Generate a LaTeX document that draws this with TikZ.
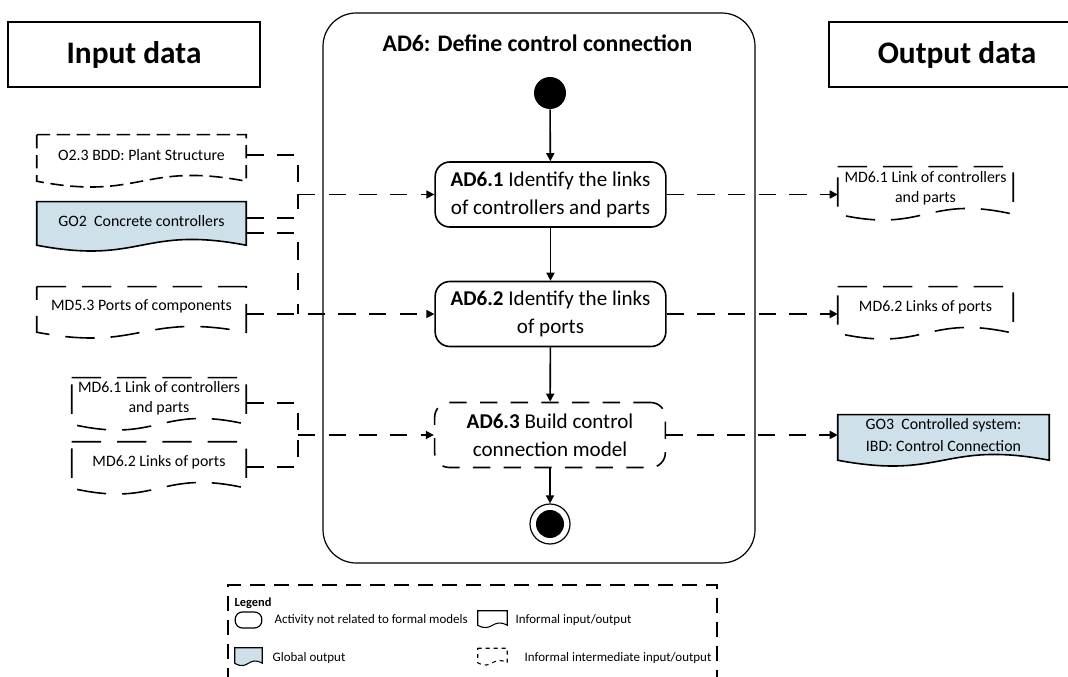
\documentclass[tikz,border=0pt]{standalone}
\usepackage{fontspec}
\setmainfont{Carlito}
\usetikzlibrary{arrows.meta,calc,backgrounds}

\definecolor{globalfill}{RGB}{206,225,234}

% document outline with wavy bottom (#3 wave, #4 drop below the text area), behind its text
\newcommand{\docline}[4][]{%
  \begin{pgfonlayer}{background}
  \draw[#1] (#2.north west) -- (#2.north east) -- ([yshift=-#4]#2.south east)
    .. controls ($([yshift=-#4]#2.south)+(0,#3)$) and ($([yshift=-#4]#2.south)+(0,-#3)$)
    .. ([yshift=-#4]#2.south west) -- cycle;
  \end{pgfonlayer}}

\tikzset{
  hdr/.style={draw,line width=0.8pt,minimum width=189pt,minimum height=48.75pt,
    font=\bfseries\fontsize{23.5}{26}\selectfont},
  act/.style={draw,line width=1.2pt,rounded corners=11pt,minimum width=173pt,
    minimum height=48.75pt,align=center,font=\fontsize{15.8}{21}\selectfont},
  doctext/.style={inner sep=0pt,align=center,font=\fontsize{11.9}{15}\selectfont},
  docsolid/.style={line width=1.2pt},
  docdash/.style={line width=1.2pt,dash pattern=on 22pt off 12pt},
  flow/.style={line width=1.2pt,dash pattern=on 13pt off 10pt},
  ctrl/.style={line width=1.2pt,->},
  legtext/.style={anchor=west,font=\fontsize{9.7}{11}\selectfont},
}

\begin{document}
\begin{tikzpicture}[x=0.75pt,y=-0.75pt,>={Triangle[length=6pt,width=6pt]}]
 \begin{pgfonlayer}{background}
 \fill[white] (0,0) rectangle (1068,677);
 \end{pgfonlayer}
 \useasboundingbox (0,0) rectangle (1068,677);
 % headers
 \node[hdr] (inhdr) at (134,54.5) {Input data};
 \node[hdr,minimum width=192pt] (outhdr) at (957,54.5) {Output data};
 % activity frame
 \node[draw,line width=0.9pt,rounded corners=25pt,minimum width=324pt,minimum height=412.5pt] (ad6) at (539,288) {};
 \node[font=\bfseries\fontsize{17.8}{20}\selectfont] (ad6title) at (537.5,43) {AD6: Define control connection};
 \node[circle,fill=black,minimum size=24pt,inner sep=0pt] (start) at (550,93) {};
 \node[act] (a61) at (550.5,194.5) {\textbf{AD6.1} Identify the links\\of controllers and parts};
 \node[act] (a62) at (550.5,314) {\textbf{AD6.2} Identify the links\\of ports};
 \node[act,dash pattern=on 13pt off 10pt] (a63) at (550,435) {\textbf{AD6.3} Build control\\connection model};
 \node[circle,draw,line width=0.9pt,minimum size=30pt,inner sep=0pt,
   path picture={\fill (path picture bounding box.center) circle (10.5pt);}] (end) at (550,524) {};
 \draw[ctrl] (start) -- (a61);
 \draw[ctrl] (a61) -- (a62);
 \draw[ctrl] (a62) -- (a63);
 \draw[ctrl] (a63) -- (end);
 % input documents
 \node[doctext,minimum width=156.75pt,minimum height=30.5pt] (o23) at (141.5,155.3) {O2.3 BDD: Plant Structure};
 \node[doctext,minimum width=156.75pt,minimum height=28.25pt] (go2) at (141.5,220.8) {GO2~ Concrete controllers};
 \node[doctext,minimum width=156.75pt,minimum height=29.75pt] (md53) at (141.5,306.8) {MD5.3 Ports of components};
 \node[doctext,minimum width=130.5pt,minimum height=30.5pt] (md61in) at (159,398.3) {MD6.1 Link of controllers\\and parts};
 \node[doctext,minimum width=130.5pt,minimum height=30.5pt] (md62in) at (159,462.3) {MD6.2 Links of ports};
 \docline[docdash,dash pattern=on 10pt off 5pt]{o23}{15pt}{4pt}
 \docline[docsolid,fill=globalfill]{go2}{15pt}{4pt}
 \docline[docdash]{md53}{15pt}{4pt}
 \docline[docdash]{md61in}{15pt}{4pt}
 \docline[docdash]{md62in}{15pt}{4pt}
 % output documents
 \node[doctext,minimum width=131.25pt,minimum height=31.25pt] (md61out) at (925.5,187.8) {MD6.1 Link of controllers\\and parts};
 \node[doctext,minimum width=131.25pt,minimum height=30.5pt] (md62out) at (925.5,307.3) {MD6.2 Links of ports};
 \node[doctext,minimum width=158.25pt,minimum height=29.75pt,font=\fontsize{11.9}{16.3}\selectfont] (go3) at (943.5,434.8) {GO3~ Controlled system:\\IBD: Control Connection};
 \docline[docdash]{md61out}{15pt}{4pt}
 \docline[docdash]{md62out}{15pt}{4pt}
 \docline[docsolid,fill=globalfill]{go3}{15pt}{4pt}
 % object flows
 \coordinate (j1) at (298,194.5);
 \coordinate (j2) at (298,314);
 \coordinate (j3) at (298,435);
 \draw[flow] (o23.east) -| (j1);
 \draw[flow] ([yshift=2pt]go2.east) -| (j1);
 \draw[flow,->] (j1) -- (a61.west);
 \draw[flow] ([yshift=-9pt]go2.east) -| (j2);
 \draw[flow,->] (md53.east |- a62.west) -- (a62.west);
 \draw[flow] ([yshift=-3.5pt]md61in.east) -| (j3);
 \draw[flow] ([yshift=-3.5pt]md62in.east) -| (j3);
 \draw[flow,->] (j3) -- (a63.west);
 \draw[flow,->] (a61.east) -- (a61.east -| md61out.west);
 \draw[flow,->] (a62.east) -- (a62.east -| md62out.west);
 \draw[flow,->] (a63.east) -- (a63.east -| go3.west);
 % legend
 \node[draw,line width=0.8pt,dash pattern=on 11pt off 7pt,minimum width=366.75pt,minimum height=86.25pt] (legend) at (472.5,642.5) {};
 \node[anchor=west,font=\bfseries\fontsize{9.3}{11}\selectfont] (legtitle) at (230,603) {Legend};
 \node[draw,line width=0.9pt,rounded corners=5.5pt,minimum width=20pt,minimum height=12pt] (legact) at (248.5,620) {};
 \node[legtext] (legacttxt) at (270,620) {Activity not related to formal models};
 \node[minimum width=21.75pt,minimum height=10.5pt] (leginf) at (492.5,618) {};
 \node[legtext] (leginftxt) at (511,620) {Informal input/output};
 \node[minimum width=20.25pt,minimum height=11.25pt] (legglob) at (248.5,655.5) {};
 \node[legtext] (legglobtxt) at (268,658) {Global output};
 \node[minimum width=21.75pt,minimum height=10.5pt] (legint) at (492.5,655.5) {};
 \node[legtext] (leginttxt) at (520,658) {Informal intermediate input/output};
 \docline[line width=0.8pt]{leginf}{6pt}{0pt}
 \docline[line width=0.8pt,fill=globalfill]{legglob}{6pt}{0pt}
 \docline[line width=0.8pt,dash pattern=on 3pt off 3pt]{legint}{6pt}{0pt}
\end{tikzpicture}
\end{document}
